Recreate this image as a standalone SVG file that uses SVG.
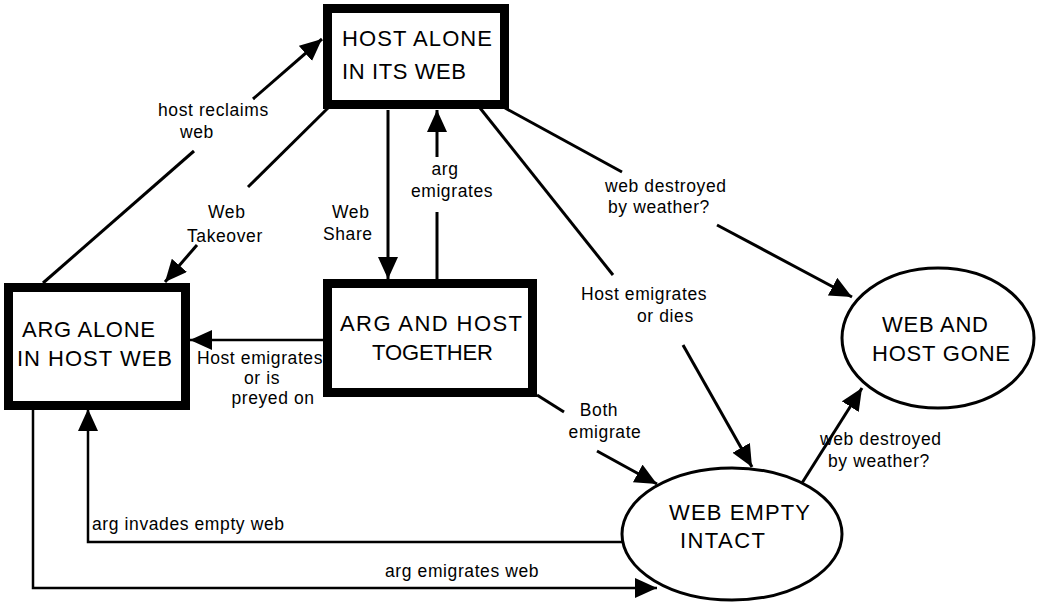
<svg xmlns="http://www.w3.org/2000/svg" width="1039" height="605" viewBox="0 0 1039 605">
<style>
.box{fill:#fff;stroke:#000;stroke-width:9}
.ell{fill:#fff;stroke:#000;stroke-width:3}
.nt{font-family:"Liberation Sans",Arial,sans-serif;font-size:22px;fill:#000}
.lb{font-family:"Liberation Sans",Arial,sans-serif;font-size:17.5px;letter-spacing:0.6px;fill:#000}
.c{fill:none;stroke:#000;stroke-width:3}
.t{fill:none;stroke:#000;stroke-width:2.5}
.m{text-anchor:middle}
</style>
<defs>
<marker id="ah" markerUnits="userSpaceOnUse" markerWidth="24" markerHeight="22" refX="22" refY="10" orient="auto">
<path d="M0,0 L22,10 L0,20 z" fill="#000"/>
</marker>
</defs>
<rect width="1039" height="605" fill="#fff"/>
<g id="connectors">
<line class="c" x1="43" y1="283" x2="194" y2="151"/>
<line class="c" x1="253" y1="99" x2="322" y2="39" marker-end="url(#ah)"/>
<line class="c" x1="328" y1="108" x2="248" y2="187"/>
<line class="c" x1="197" y1="245" x2="165" y2="282" marker-end="url(#ah)"/>
<line class="c" x1="388" y1="110" x2="388" y2="279" marker-end="url(#ah)"/>
<line class="c" x1="437" y1="279" x2="437" y2="212"/>
<line class="c" x1="437" y1="157" x2="437" y2="110" marker-end="url(#ah)"/>
<line class="c" x1="505" y1="108" x2="622" y2="172"/>
<line class="c" x1="717" y1="225" x2="852" y2="297" marker-end="url(#ah)"/>
<line class="c" x1="480" y1="108" x2="613" y2="275"/>
<line class="c" x1="683" y1="345" x2="752" y2="467" marker-end="url(#ah)"/>
<line class="t" x1="323" y1="340" x2="190" y2="340" marker-end="url(#ah)"/>
<line class="c" x1="537" y1="395" x2="564" y2="412"/>
<line class="c" x1="597" y1="451" x2="657" y2="484" marker-end="url(#ah)"/>
<line class="c" x1="802" y1="483" x2="862" y2="388" marker-end="url(#ah)"/>
<polyline class="t" points="623,542 88,542 88,409" marker-end="url(#ah)"/>
<polyline class="t" points="33,409 33,588 657,588" marker-end="url(#ah)"/>
<text class="lb" x="158" y="116">host reclaims</text>
<text class="lb" x="180" y="138">web</text>
<text class="lb" x="208" y="218">Web</text>
<text class="lb" x="187" y="242">Takeover</text>
<text class="lb" x="332" y="218">Web</text>
<text class="lb" x="323" y="240">Share</text>
<text class="lb m" x="445" y="175">arg</text>
<text class="lb m" x="452" y="197">emigrates</text>
<text class="lb" x="605" y="192">web destroyed</text>
<text class="lb" x="608" y="213">by weather?</text>
<text class="lb" x="581" y="300">Host emigrates</text>
<text class="lb" x="637" y="322">or dies</text>
<text class="lb m" x="260" y="364">Host emigrates</text>
<text class="lb m" x="262" y="384">or is</text>
<text class="lb m" x="273" y="404">preyed on</text>
<text class="lb m" x="599" y="416">Both</text>
<text class="lb m" x="605" y="438">emigrate</text>
<text class="lb" x="820" y="445">web destroyed</text>
<text class="lb" x="828" y="467">by weather?</text>
<text class="lb" x="92" y="530" letter-spacing="1.2">arg invades empty web</text>
<text class="lb" x="385" y="577" letter-spacing="1">arg emigrates web</text>
</g>
<g id="host-alone">
<rect class="box" x="327.5" y="8.5" width="177" height="96"/>
<text class="nt" x="342" y="46" textLength="150" lengthAdjust="spacing">HOST ALONE</text>
<text class="nt" x="342" y="79" textLength="124" lengthAdjust="spacing">IN ITS WEB</text>
</g>
<g id="arg-alone">
<rect class="box" x="8.5" y="287.5" width="177" height="118"/>
<text class="nt" x="22" y="337" textLength="133" lengthAdjust="spacing">ARG ALONE</text>
<text class="nt" x="17" y="366" textLength="155" lengthAdjust="spacing">IN HOST WEB</text>
</g>
<g id="arg-and-host">
<rect class="box" x="327.5" y="283.5" width="205" height="109"/>
<text class="nt" x="340" y="331" textLength="182" lengthAdjust="spacing">ARG AND HOST</text>
<text class="nt" x="372" y="360" textLength="121" lengthAdjust="spacing">TOGETHER</text>
</g>
<g id="web-and-host-gone">
<ellipse class="ell" cx="938" cy="338" rx="96" ry="70"/>
<text class="nt" x="882" y="332" textLength="106" lengthAdjust="spacing">WEB AND</text>
<text class="nt" x="872" y="361" textLength="138" lengthAdjust="spacing">HOST GONE</text>
</g>
<g id="web-empty">
<ellipse class="ell" cx="732" cy="534" rx="110" ry="66"/>
<text class="nt" x="669" y="520" textLength="141" lengthAdjust="spacing">WEB EMPTY</text>
<text class="nt" x="680" y="548" textLength="85" lengthAdjust="spacing">INTACT</text>
</g>
</svg>
